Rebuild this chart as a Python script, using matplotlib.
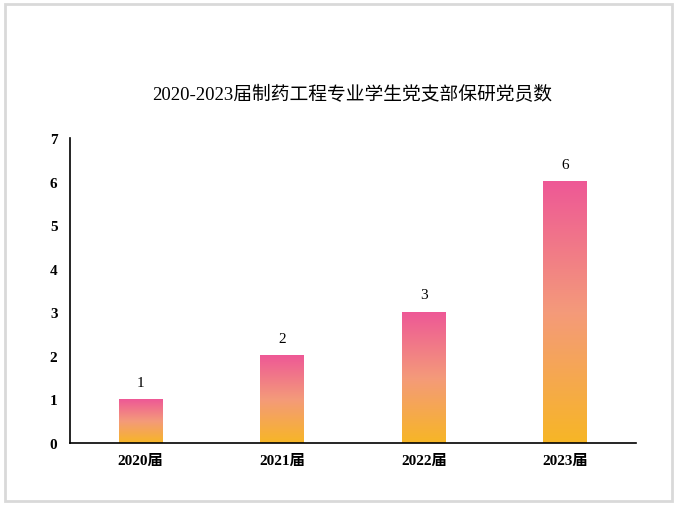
import numpy as np
import matplotlib.pyplot as plt
from matplotlib.colors import LinearSegmentedColormap
from matplotlib.patches import Rectangle

plt.rcParams['font.family'] = ['Liberation Serif', 'Noto Sans CJK SC', 'DejaVu Sans']

# data
years = ['2020届', '2021届', '2022届', '2023届']
counts = [1, 2, 3, 6]
title = '2020-2023届制药工程专业学生党支部保研党员数'

# gradient: yellow at the bottom, pink at the top
grad_cmap = LinearSegmentedColormap.from_list('bar_grad', ['#F7B626', '#F49A7A', '#EE5896'])

W, H = 679, 510
fig = plt.figure(figsize=(W / 100, H / 100), dpi=100)

# light grey frame round the chart area
fig.patches.append(Rectangle((5 / W, 8 / H), 667 / W, 497 / H, transform=fig.transFigure,
                             fill=False, edgecolor='#D9D9D9', linewidth=2))

ax = fig.add_axes([70 / W, (H - 444) / H, (636 - 70) / W, (444 - 139) / H])

x = np.arange(len(years))
bar_w = 0.31
grad = np.linspace(1, 0, 256).reshape(-1, 1)
for xi, v in zip(x, counts):
    ax.imshow(grad, cmap=grad_cmap, aspect='auto', interpolation='bilinear',
              extent=[xi - bar_w / 2, xi + bar_w / 2, 0, v], zorder=2)
    ax.text(xi, v + 0.25, str(v), ha='center', va='bottom', fontsize=11)

ax.set_xlim(-0.5, len(years) - 0.5)
ax.set_ylim(0, 7)
ax.set_xticks(x)
ax.set_xticklabels(years, fontsize=11, fontweight='bold')
ax.set_yticks(range(0, 8))
ax.set_yticklabels([str(i) for i in range(0, 8)], fontsize=11, fontweight='bold')
ax.tick_params(axis='both', length=0)
ax.tick_params(axis='x', pad=8)
ax.tick_params(axis='y', pad=9)

for s in ['top', 'right']:
    ax.spines[s].set_visible(False)
for s in ['left', 'bottom']:
    ax.spines[s].set_color('black')
    ax.spines[s].set_linewidth(1.2)

fig.text(352 / W, 1 - 95 / H, title, ha='center', va='center', fontsize=13.5)

plt.savefig('out.png', dpi=100)
